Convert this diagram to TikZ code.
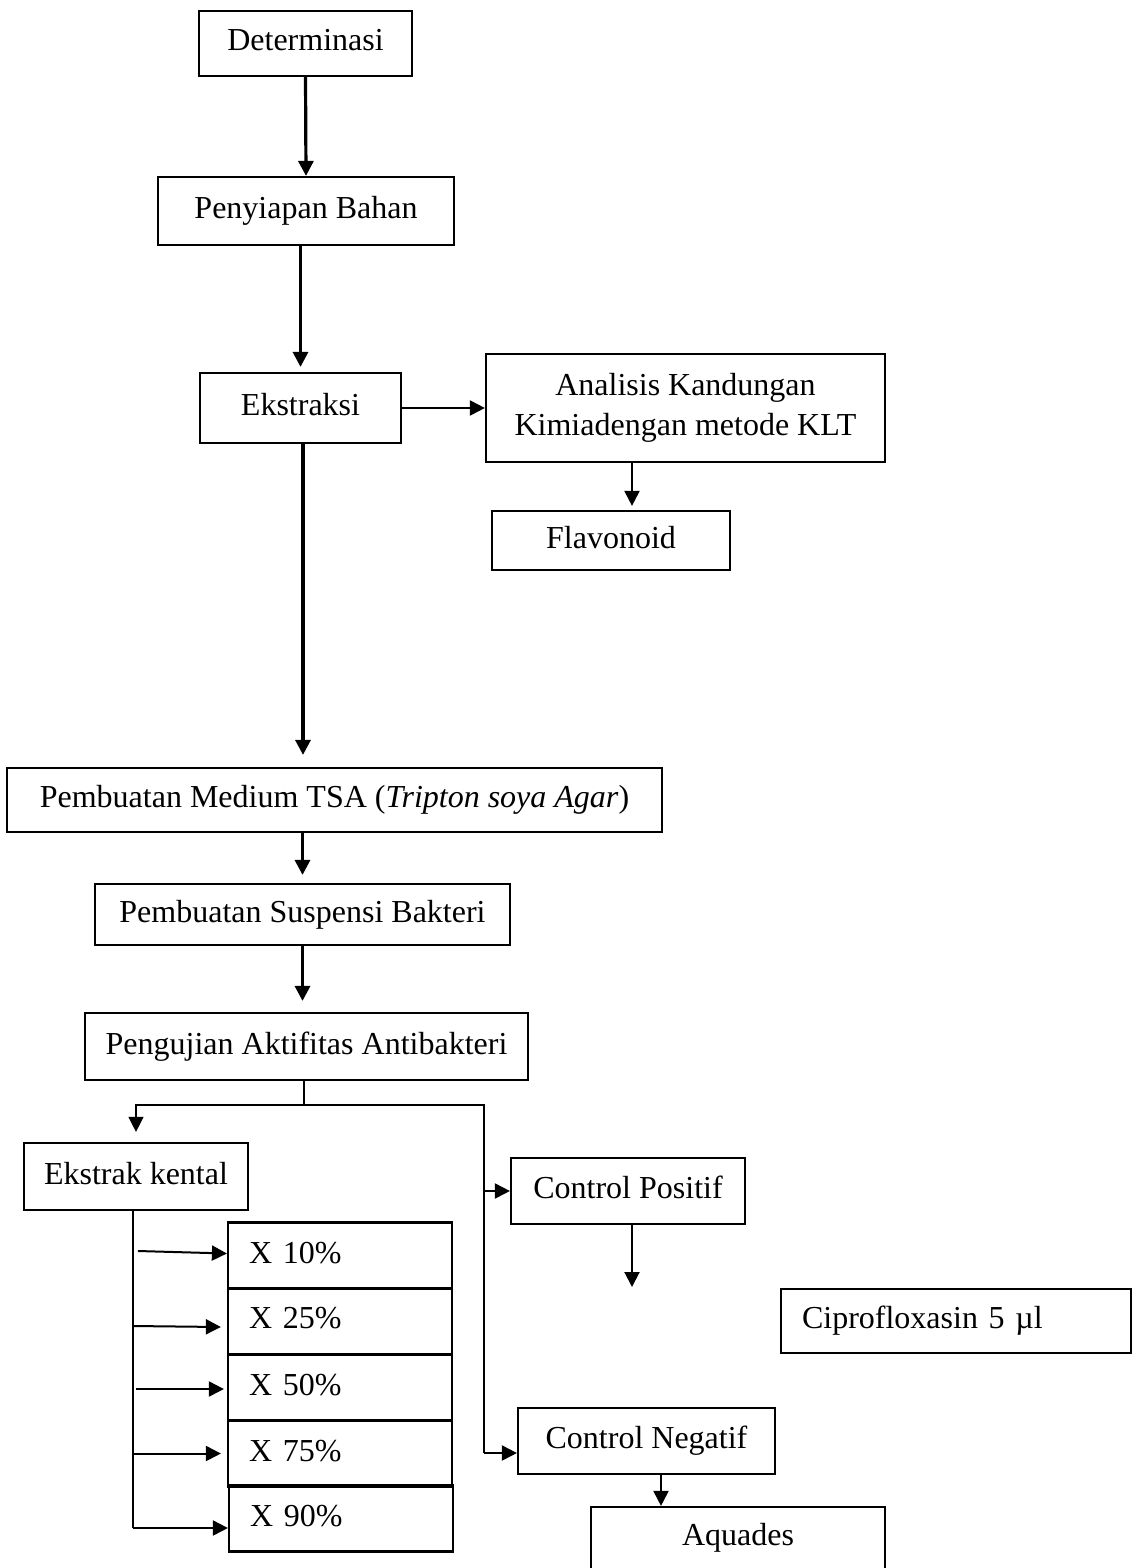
\documentclass[tikz,border=0pt]{standalone}
\usepackage{fontspec}
\setmainfont{Liberation Serif}
\usetikzlibrary{arrows.meta}
\tikzset{
  base/.style={draw,line width=2.2pt,inner sep=0pt,font=\fontsize{32}{40}\selectfont},
  box/.style={base,text height=22pt,text depth=7pt},
  pct/.style={box,minimum width=224pt,minimum height=66pt,text width=182pt,inner xsep=21pt,align=left},
  flow/.style={line width=3.2pt,-{Triangle[length=15pt,width=15pt]}},
  arr/.style={line width=2pt,-{Triangle[length=15pt,width=15pt]}},
  wire/.style={line width=1.3pt}
}
\begin{document}
\begin{tikzpicture}[x=1pt,y=-1pt]
\useasboundingbox (0,0) rectangle (1132,1568);

\node[box,minimum width=213pt,minimum height=65pt] (det) at (305.5,43.5) {Determinasi};
\node[box,minimum width=296pt,minimum height=68pt] (prep) at (306,211) {Penyiapan Bahan};
\node[box,minimum width=201pt,minimum height=70pt] (ekstr) at (300.5,408) {Ekstraksi};
\node[base,align=center,minimum width=399pt,minimum height=108pt] (klt) at (685.5,408) {Analisis Kandungan\\Kimiadengan metode KLT};
\node[box,minimum width=238pt,minimum height=59pt] (flav) at (611,540.5) {Flavonoid};
\node[box,minimum width=655pt,minimum height=64pt] (tsa) at (334.5,800) {Pembuatan Medium TSA (\textit{Tripton soya Agar})};
\node[box,minimum width=415pt,minimum height=61pt] (susp) at (302.5,914.5) {Pembuatan Suspensi Bakteri};
\node[box,minimum width=443pt,minimum height=67pt] (uji) at (306.5,1046.5) {Pengujian Aktifitas Antibakteri};

\node[box,minimum width=224pt,minimum height=67pt] (kental) at (136,1176.5) {Ekstrak kental};
\node[pct] (x10) at (340,1255.5) {X 10\%};
\node[pct] (x25) at (340,1321) {X 25\%};
\node[pct] (x50) at (340,1387.5) {X 50\%};
\node[pct] (x75) at (340,1453.5) {X 75\%};
\node[pct] (x90) at (341,1518.5) {X 90\%};

\node[box,minimum width=234pt,minimum height=66pt] (cpos) at (628,1191) {Control Positif};
\node[box,minimum width=350pt,minimum height=64pt,text width=308pt,inner xsep=21pt,align=left] (cipro) at (956,1321) {Ciprofloxasin 5 µl};
\node[box,minimum width=257pt,minimum height=66pt] (cneg) at (646.5,1441) {Control Negatif};
\node[box,minimum width=294pt,minimum height=62pt] (aqua) at (738,1538) {Aquades};

\coordinate (split) at (304,1105);
\coordinate (railtop) at (484,1105);
\coordinate (railbot) at (484,1453);
\coordinate (kspine) at (133,1528);
\coordinate (cposend) at (632,1287);

\draw[flow] (det.south) -- (prep.north);
\draw[flow,shorten >=5pt] (ekstr.north |- prep.south) -- (ekstr.north);
\draw[flow,shorten >=12pt] ([xshift=2.5pt]ekstr.south) -- ([xshift=2.5pt]ekstr.south |- tsa.north);
\draw[flow,shorten >=8pt] (susp.north |- tsa.south) -- (susp.north);
\draw[flow,shorten >=11pt] (susp.south) -- (susp.south |- uji.north);
\draw[arr] (ekstr.east) -- (klt.west);
\draw[arr,shorten >=4pt] ([xshift=21pt]flav.north |- klt.south) -- ([xshift=21pt]flav.north);

\draw[wire] (uji.south -| split) -- (split);
\draw[wire,-{Triangle[length=15pt,width=15pt]},shorten >=10pt] (split) -| (kental.north);
\draw[wire] (split) -- (railtop) -- (railbot);
\draw[arr] (railtop |- cpos.west) -- (cpos.west);
\draw[arr] (railbot) -- (railbot -| cneg.west);
\draw[arr] (cpos.south -| cposend) -- (cposend);
\draw[arr] ([xshift=14.5pt]cneg.south) -- ([xshift=14.5pt]cneg.south |- aqua.north);

\draw[line width=2.3pt] (kental.south -| kspine) -- (kspine);
\draw[arr] ([xshift=5pt,yshift=4.5pt]x10.west -| kspine) -- ([yshift=2pt]x10.west);
\draw[arr] ([yshift=-5pt]x25.west -| kspine) -- ([xshift=-6pt,yshift=-6pt]x25.west);
\draw[arr] ([xshift=3pt,yshift=-1.5pt]x50.west -| kspine) -- ([xshift=-3pt,yshift=-1.5pt]x50.west);
\draw[arr] (x75.west -| kspine) -- ([xshift=-6pt]x75.west);
\draw[arr] (kspine) -- (kspine -| x90.west);
\end{tikzpicture}
\end{document}
